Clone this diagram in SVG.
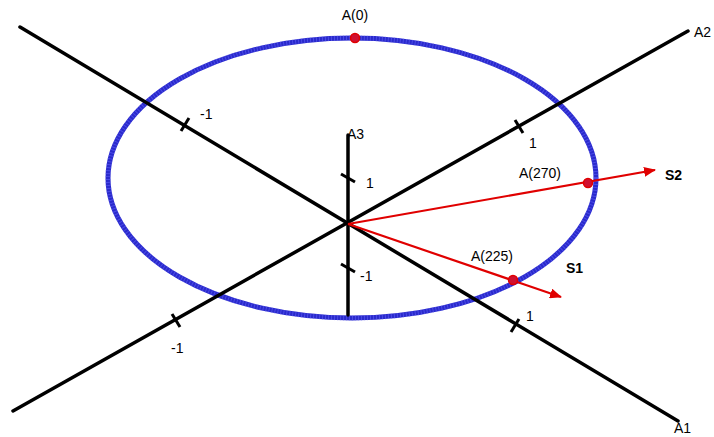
<svg xmlns="http://www.w3.org/2000/svg" width="714" height="437" viewBox="0 0 714 437">
<style>
.ax{stroke:#000;stroke-width:3.5;fill:none;stroke-linecap:round}
.tk{stroke:#000;stroke-width:3;fill:none}
.vec{stroke:#e00000;stroke-width:2.2;fill:none}
.t{font-family:"Liberation Sans",Arial,sans-serif;font-size:14px;fill:#000}
.b{font-weight:bold}
.dot{fill:#d01030;stroke:#e00000;stroke-width:1.5}
</style>
<defs>
<marker id="ah" viewBox="0 0 12 10" refX="11" refY="5" markerWidth="12" markerHeight="10" markerUnits="userSpaceOnUse" orient="auto">
<path d="M0,0 L12,5 L0,10 z" fill="#e00000"/>
</marker>
</defs>
<rect width="714" height="437" fill="#fff"/>
<g id="ellipse">
<ellipse cx="352" cy="178" rx="244" ry="140" fill="none" stroke="#2a2acc" stroke-width="5"/>
<ellipse cx="352" cy="178" rx="244" ry="140" fill="none" stroke="#6a6aff" stroke-width="5" stroke-dasharray="1 2" opacity="0.5"/>
</g>
<g id="connectors">
<line class="ax" x1="13" y1="411" x2="688" y2="31"/>
<line class="ax" x1="20" y1="27" x2="678" y2="421"/>
<line class="ax" x1="348" y1="135" x2="348" y2="315"/>
<line class="tk" x1="172" y1="314" x2="180" y2="327"/>
<line class="tk" x1="515" y1="120" x2="523" y2="133"/>
<line class="tk" x1="189" y1="118" x2="181" y2="131"/>
<line class="tk" x1="519" y1="319" x2="511" y2="332"/>
<line class="tk" x1="341" y1="174" x2="355" y2="182"/>
<line class="tk" x1="341" y1="264" x2="355" y2="272"/>
<line class="vec" x1="348" y1="224" x2="655" y2="170" marker-end="url(#ah)"/>
<line class="vec" x1="348" y1="224" x2="561" y2="297" marker-end="url(#ah)"/>
</g>
<g id="points">
<circle class="dot" cx="355" cy="38" r="4.5"/>
<circle class="dot" cx="588" cy="183" r="4.5"/>
<circle class="dot" cx="513" cy="280" r="4.5"/>
</g>
<g id="labels">
<text class="t" x="355" y="20" text-anchor="middle">A(0)</text>
<text class="t" x="694" y="37">A2</text>
<text class="t" x="674" y="433">A1</text>
<text class="t" x="347" y="139">A3</text>
<text class="t" x="366" y="188">1</text>
<text class="t" x="360" y="281">-1</text>
<text class="t" x="200" y="119">-1</text>
<text class="t" x="529" y="148">1</text>
<text class="t" x="171" y="353">-1</text>
<text class="t" x="526" y="321">1</text>
<text class="t" x="519" y="178">A(270)</text>
<text class="t b" x="665" y="180">S2</text>
<text class="t" x="471" y="261">A(225)</text>
<text class="t b" x="566" y="273">S1</text>
</g>
</svg>
